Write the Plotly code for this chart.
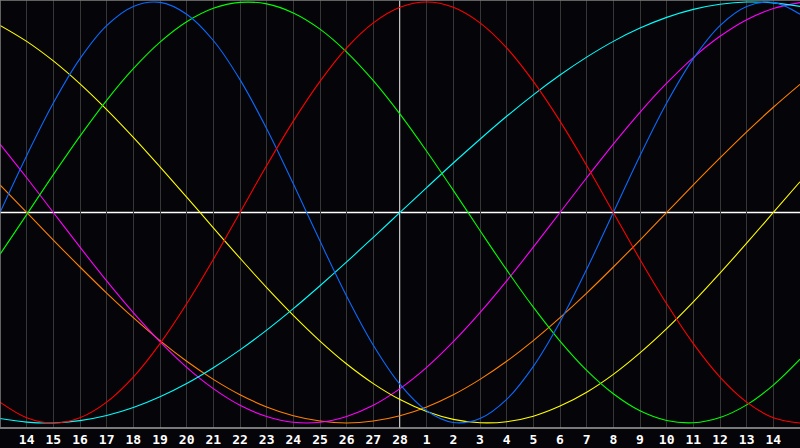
import plotly.graph_objects as go

# day offsets relative to "today" (28th), one sample per day
days = list(range(-15, 16))
tick_days = list(range(-14, 15))
tick_labels = ["14", "15", "16", "17", "18", "19", "20", "21", "22", "23", "24", "25", "26", "27", "28",
               "1", "2", "3", "4", "5", "6", "7", "8", "9", "10", "11", "12", "13", "14"]

# values (percent) read per day off the reference
red = [-90.1, -97.5, -100, -97.5, -90.1, -78.2, -62.3, -43.4, -22.3, 0, 22.3, 43.4, 62.3, 78.2, 90.1, 97.5,
       100, 97.5, 90.1, 78.2, 62.3, 43.4, 22.3, 0, -22.3, -43.4, -62.3, -78.2, -90.1, -97.5, -100]
blue = [0, 27.0, 52.0, 73.1, 88.8, 97.9, 99.8, 94.2, 81.7, 63.1, 39.8, 13.6, -13.6, -39.8, -63.1, -81.7,
        -94.2, -99.8, -97.9, -88.8, -73.1, -52.0, -27.0, 0, 27.0, 52.0, 73.1, 88.8, 97.9, 99.8, 94.2]
green = [-19.9, -1.0, 18.0, 36.3, 53.3, 68.3, 80.9, 90.6, 97.0, 99.8, 99.1, 94.8, 87.1, 76.2, 62.6, 46.7,
         29.1, 10.5, -8.6, -27.3, -45.0, -61.1, -75.0, -86.1, -94.2, -98.8, -99.9, -97.4, -91.4, -82.0, -69.7]
cyan = [-97.9, -99.6, -100.0, -98.9, -96.5, -92.7, -87.6, -81.3, -73.8, -65.3, -55.9, -45.7, -34.8, -23.5, -11.8, 0,
        11.8, 23.5, 34.8, 45.7, 55.9, 65.3, 73.8, 81.3, 87.6, 92.7, 96.5, 98.9, 100.0, 99.6, 97.9]
yellow = [88.9, 81.3, 72.0, 61.1, 48.9, 35.7, 21.7, 7.3, -7.3, -21.7, -35.7, -48.9, -61.1, -72.0, -81.3, -88.9,
          -94.6, -98.3, -99.9, -99.4, -96.8, -92.0, -85.4, -76.9, -66.7, -55.2, -42.5, -28.8, -14.6, 0, 14.6]
magenta = [32.5, 16.5, 0, -16.5, -32.5, -47.6, -61.4, -73.6, -83.7, -91.6, -96.9, -99.7, -99.7, -96.9, -91.6, -83.7,
           -73.6, -61.4, -47.6, -32.5, -16.5, 0, 16.5, 32.5, 47.6, 61.4, 73.6, 83.7, 91.6, 96.9, 99.7]
orange = [13.1, 0, -13.1, -25.9, -38.3, -50.0, -60.9, -70.7, -79.3, -86.6, -92.4, -96.6, -99.1, -100, -99.1, -96.6,
          -92.4, -86.6, -79.3, -70.7, -60.9, -50.0, -38.3, -25.9, -13.1, 0, 13.1, 25.9, 38.3, 50.0, 60.9]

series = [
    ("orange", orange, "#ff8000"),
    ("magenta", magenta, "#ff00ff"),
    ("yellow", yellow, "#ffff00"),
    ("cyan", cyan, "#00ffff"),
    ("green", green, "#00ff00"),
    ("blue", blue, "#0a6aff"),
    ("red", red, "#ff0000"),
]

fig = go.Figure()
for name, vals, col in series:
    fig.add_trace(go.Scatter(x=days, y=vals, mode="lines", name=name,
                             line=dict(color=col, width=1.1, shape="spline", smoothing=1.0),
                             hoverinfo="skip"))

fig.update_layout(
    width=800, height=448,
    margin=dict(l=0, r=0, t=0, b=20),
    paper_bgcolor="#050408",
    plot_bgcolor="#050408",
    showlegend=False,
    xaxis=dict(range=[-15, 15], tickvals=tick_days, ticktext=tick_labels,
               showgrid=True, gridcolor="#363636", gridwidth=1,
               zeroline=False, showline=False, ticks="", ticklabelstandoff=2,
               tickfont=dict(family="DejaVu Sans Mono", size=13, color="#ffffff", weight="bold"),
               fixedrange=True),
    yaxis=dict(range=[-102.4, 100.95], showgrid=False, zeroline=False,
               showticklabels=False, ticks="", fixedrange=True),
    shapes=[
        dict(type="line", xref="paper", yref="y", x0=0, x1=1, y0=0, y1=0,
             line=dict(color="#ffffff", width=1.5), layer="below"),
        dict(type="line", xref="x", yref="paper", x0=0, x1=0, y0=0, y1=1,
             line=dict(color="#ffffff", width=1.5), layer="below"),
        dict(type="line", xref="paper", yref="paper", x0=0, x1=1, y0=0, y1=0,
             line=dict(color="#a0a0a0", width=1.5)),
        dict(type="line", xref="paper", yref="paper", x0=0, x1=1, y0=1, y1=1,
             line=dict(color="#808080", width=1.5)),
        dict(type="line", xref="paper", yref="paper", x0=0, x1=0, y0=0, y1=1,
             line=dict(color="#808080", width=1.5)),
    ],
)

fig.write_html("out.html", config={"displayModeBar": False},
               post_script="document.body.style.margin='0';document.body.style.overflow='hidden';")
